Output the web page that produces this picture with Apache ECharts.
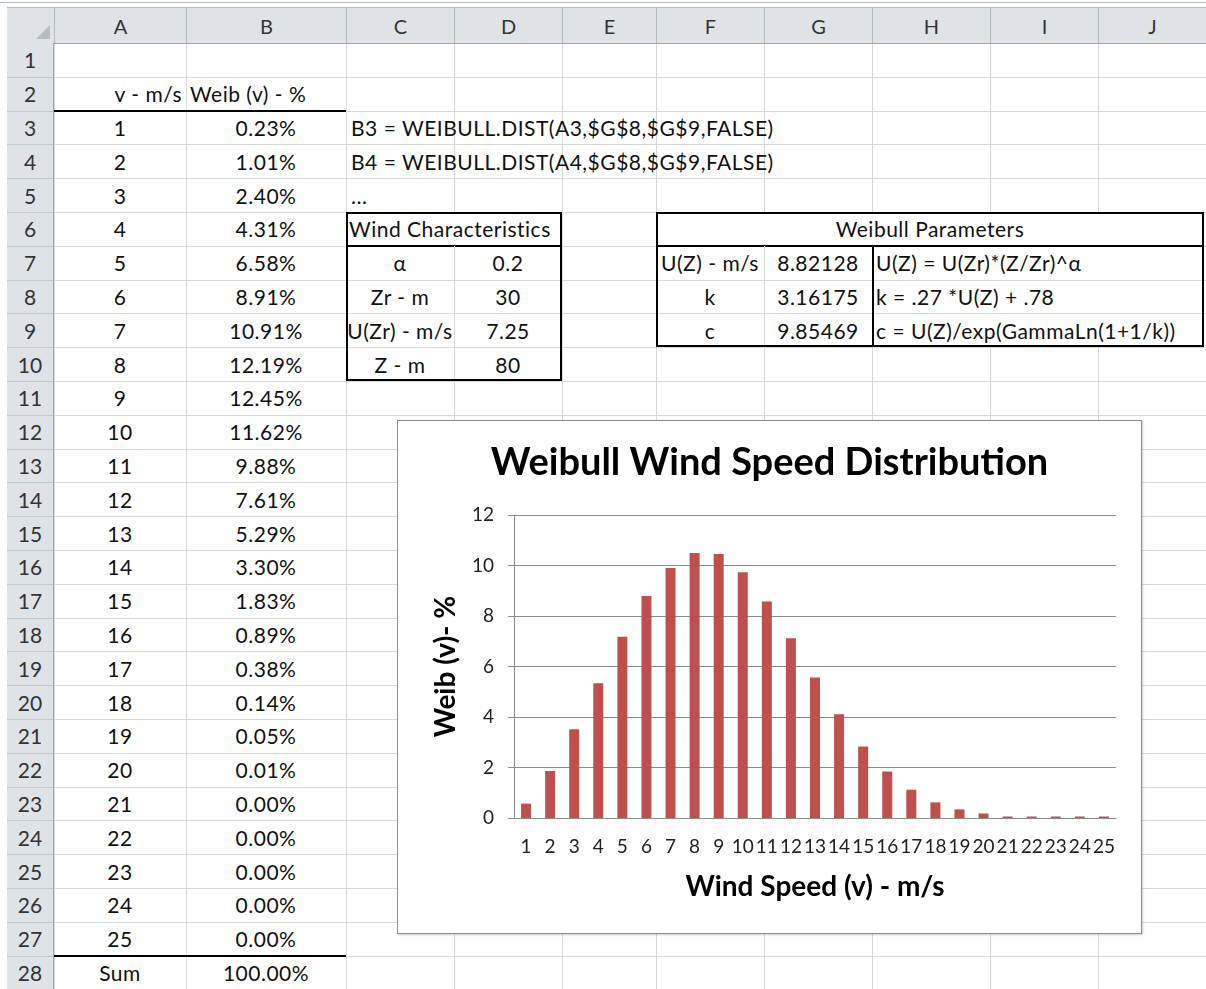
<!DOCTYPE html>
<html>
<head>
<meta charset="utf-8">
<script src="https://cdn.jsdelivr.net/npm/echarts@6/dist/echarts.min.js"></script>
<style>
  html, body { margin: 0; padding: 0; background: #fff; }
  body { width: 1206px; height: 989px; position: relative; overflow: hidden; font-family: Lato, "Open Sans", sans-serif; }
  .cell { position: absolute; display: flex; align-items: center; white-space: nowrap; font-size: 21px; letter-spacing: 0.5px; color: #111; }
  #chart { position: absolute; left: 397px; top: 420px; width: 745px; height: 514px; background: #fff;
           border: 1px solid #8e8e8e; box-sizing: border-box; box-shadow: 1px 1px 2px rgba(0,0,0,.2); }
</style>
</head>
<body>
<div id="sheet"></div>
<div id="chart"></div>
<script>
// 表格数据
const colNames = ['A', 'B', 'C', 'D', 'E', 'F', 'G', 'H', 'I', 'J'];
const speeds = [1, 2, 3, 4, 5, 6, 7, 8, 9, 10, 11, 12, 13, 14, 15, 16, 17, 18, 19, 20, 21, 22, 23, 24, 25];
const tableWeib = [0.23, 1.01, 2.40, 4.31, 6.58, 8.91, 10.91, 12.19, 12.45, 11.62, 9.88, 7.61, 5.29,
  3.30, 1.83, 0.89, 0.38, 0.14, 0.05, 0.01, 0.00, 0.00, 0.00, 0.00, 0.00];
// 图表里柱子的高度（和表格不一样，按图读出来）
const chartWeib = [0.57, 1.86, 3.51, 5.34, 7.18, 8.79, 9.9, 10.5, 10.46, 9.73, 8.57, 7.12, 5.56,
  4.11, 2.83, 1.84, 1.12, 0.62, 0.34, 0.18, 0.06, 0.06, 0.06, 0.06, 0.06];
const formulas = ['B3 = WEIBULL.DIST(A3,$G$8,$G$9,FALSE)', 'B4 = WEIBULL.DIST(A4,$G$8,$G$9,FALSE)', '...'];
const windLabels = ['α', 'Zr - m', 'U(Zr) - m/s', 'Z - m'];
const windValues = ['0.2', '30', '7.25', '80'];
const paramLabels = ['U(Z) - m/s', 'k', 'c'];
const paramValues = ['8.82128', '3.16175', '9.85469'];
const paramFormulas = ['U(Z) = U(Zr)*(Z/Zr)^α', 'k = .27 *U(Z) + .78', 'c = U(Z)/exp(GammaLn(1+1/k))'];
const yTicks = { min: 0, max: 12, step: 2 };

// 表格布局
(function () {
  const sheet = document.getElementById('sheet');
  const colX = [54, 186, 346, 454, 562, 656, 764, 872, 990, 1098, 1206];
  const rowH = 33.8;
  const top0 = 43;
  const nRows = 28;
  const rowTop = r => top0 + (r - 1) * rowH;

  function box(l, t, w, h, css) {
    const d = document.createElement('div');
    d.style.cssText = `position:absolute;left:${l}px;top:${t}px;width:${w}px;height:${h}px;` + (css || '');
    sheet.appendChild(d);
    return d;
  }
  function cell(text, c0, c1, row, align, pad) {
    const l = colX[c0], w = colX[c1 + 1] - colX[c0];
    const d = box(l, rowTop(row), w, rowH, '');
    d.className = 'cell';
    d.style.justifyContent = align === 'left' ? 'flex-start' : (align === 'right' ? 'flex-end' : 'center');
    if (pad) d.style.padding = align === 'left' ? `0 0 0 ${pad}px` : `0 ${pad}px 0 0`;
    d.style.boxSizing = 'border-box';
    d.textContent = text;
    return d;
  }

  // 网格线
  for (let i = 0; i < colX.length; i++) box(colX[i], top0, 1, 989 - top0, 'background:#d9d9d9;');
  for (let r = 2; r <= nRows + 1; r++) box(colX[0], Math.round(rowTop(r)), 1206 - colX[0], 1, 'background:#d9d9d9;');

  // 顶部线 + 列头
  box(0, 2, 1206, 1, 'background:#b8bcc2;');
  box(7, 7, 1199, 35, 'background:#dfe3e8;border-top:1px solid #b5bbc3;border-bottom:1px solid #9da6b0;');
  box(7, 7, 47, 35, 'background:#dfe3e8;border-right:1px solid #9da6b0;border-top:1px solid #b5bbc3;border-bottom:1px solid #9da6b0;');
  box(36, 25, 0, 0, 'border-left:14px solid transparent;border-bottom:14px solid #b7bcc2;');
  for (let i = 0; i < colNames.length; i++) {
    const d = box(colX[i], 8, colX[i + 1] - colX[i], 35, 'display:flex;align-items:center;justify-content:center;font-size:20px;color:#333;border-left:1px solid #b5bbc3;box-sizing:border-box;');
    d.textContent = colNames[i];
  }
  // 行头
  box(7, top0, 47, 989 - top0, 'background:#dfe3e8;border-right:1px solid #9da6b0;box-sizing:border-box;');
  for (let r = 1; r <= nRows; r++) {
    const d = box(7, rowTop(r), 46, rowH, 'display:flex;align-items:center;justify-content:center;font-size:21px;color:#333;');
    d.textContent = r;
    box(7, Math.round(rowTop(r + 1)), 46, 1, 'background:#c2c8d0;');
  }

  // A/B 列
  cell('v - m/s', 0, 0, 2, 'right', 4);
  cell('Weib (v) - %', 1, 1, 2, 'left', 4);
  box(colX[0], Math.round(rowTop(3)) - 1, colX[2] - colX[0], 2, 'background:#000;');
  speeds.forEach((v, i) => {
    cell(String(v), 0, 0, 3 + i, 'center');
    cell(tableWeib[i].toFixed(2) + '%', 1, 1, 3 + i, 'center');
  });
  box(colX[0], Math.round(rowTop(28)) - 1, colX[2] - colX[0], 2, 'background:#000;');
  cell('Sum', 0, 0, 28, 'center');
  cell('100.00%', 1, 1, 28, 'center');

  // 公式
  formulas.forEach((f, i) => cell(f, 2, 2, 3 + i, 'left', 5));

  // Wind Characteristics
  box(colX[2], rowTop(6), colX[4] - colX[2], rowTop(11) - rowTop(6), 'background:#fff;border:2px solid #000;box-sizing:border-box;');
  box(colX[2], Math.round(rowTop(7)) - 1, colX[4] - colX[2], 2, 'background:#000;');
  for (let r = 8; r <= 10; r++) box(colX[2] + 2, Math.round(rowTop(r)), colX[4] - colX[2] - 4, 1, 'background:#d9d9d9;');
  box(colX[3], rowTop(7), 1, rowTop(11) - rowTop(7) - 2, 'background:#d9d9d9;');
  cell('Wind Characteristics', 2, 2, 6, 'left', 3);
  windLabels.forEach((t, i) => {
    cell(t, 2, 2, 7 + i, 'center');
    cell(windValues[i], 3, 3, 7 + i, 'center');
  });

  // Weibull Parameters
  box(colX[5], rowTop(6), 1204 - colX[5], rowTop(10) - rowTop(6), 'background:#fff;border:2px solid #000;box-sizing:border-box;');
  box(colX[5], Math.round(rowTop(7)) - 1, 1204 - colX[5], 2, 'background:#000;');
  for (let r = 8; r <= 9; r++) box(colX[5] + 2, Math.round(rowTop(r)), 1204 - colX[5] - 4, 1, 'background:#d9d9d9;');
  box(colX[6], rowTop(7), 1, rowTop(10) - rowTop(7) - 2, 'background:#d9d9d9;');
  box(colX[7], rowTop(7), 1.5, rowTop(10) - rowTop(7) - 2, 'background:#000;');
  const t = cell('Weibull Parameters', 5, 9, 6, 'center');
  t.style.width = (1204 - colX[5]) + 'px';
  paramLabels.forEach((p, i) => {
    cell(p, 5, 5, 7 + i, 'center');
    cell(paramValues[i], 6, 6, 7 + i, 'center');
    cell(paramFormulas[i], 7, 7, 7 + i, 'left', 4);
  });
})();

// 柱状图
(function () {
  const myChart = echarts.init(document.getElementById('chart'));
  let option = {
    animation: false,
    textStyle: { fontFamily: 'Lato' },
    title: {
      text: 'Weibull Wind Speed Distribution',
      left: 'center',
      top: 18,
      textStyle: { fontFamily: 'Lato', fontWeight: 'bold', fontSize: 38, color: '#000' }
    },
    grid: { left: 116, right: 25, top: 94, bottom: 115 },
    xAxis: {
      type: 'category',
      data: speeds,
      name: 'Wind Speed (v) - m/s',
      nameLocation: 'middle',
      nameGap: 55,
      nameTextStyle: { fontFamily: 'Lato', fontWeight: 'bold', fontSize: 28, color: '#000' },
      axisLine: { lineStyle: { color: '#8c8c8c' } },
      axisTick: { length: 8, lineStyle: { color: '#8c8c8c' } },
      axisLabel: { interval: 0, color: '#222', fontSize: 19, margin: 19 }
    },
    yAxis: {
      type: 'value',
      min: yTicks.min,
      max: yTicks.max,
      interval: yTicks.step,
      name: 'Weib (v)- %',
      nameLocation: 'middle',
      nameRotate: 90,
      nameGap: 54,
      nameTextStyle: { fontFamily: 'Lato', fontWeight: 'bold', fontSize: 28, color: '#000' },
      axisLine: { show: true, lineStyle: { color: '#8c8c8c' } },
      axisTick: { show: true, length: 6, lineStyle: { color: '#8c8c8c' } },
      axisLabel: { color: '#222', fontSize: 19, margin: 20 },
      splitLine: { lineStyle: { color: '#8c8c8c' } }
    },
    series: [{
      name: 'Weib',
      type: 'bar',
      barWidth: 10,
      data: chartWeib,
      itemStyle: { color: '#C0504D' }
    }]
  };
  myChart.setOption(option);
  window.addEventListener('resize', function () {
    myChart.resize();
  });
})();
</script>
</body>
</html>
